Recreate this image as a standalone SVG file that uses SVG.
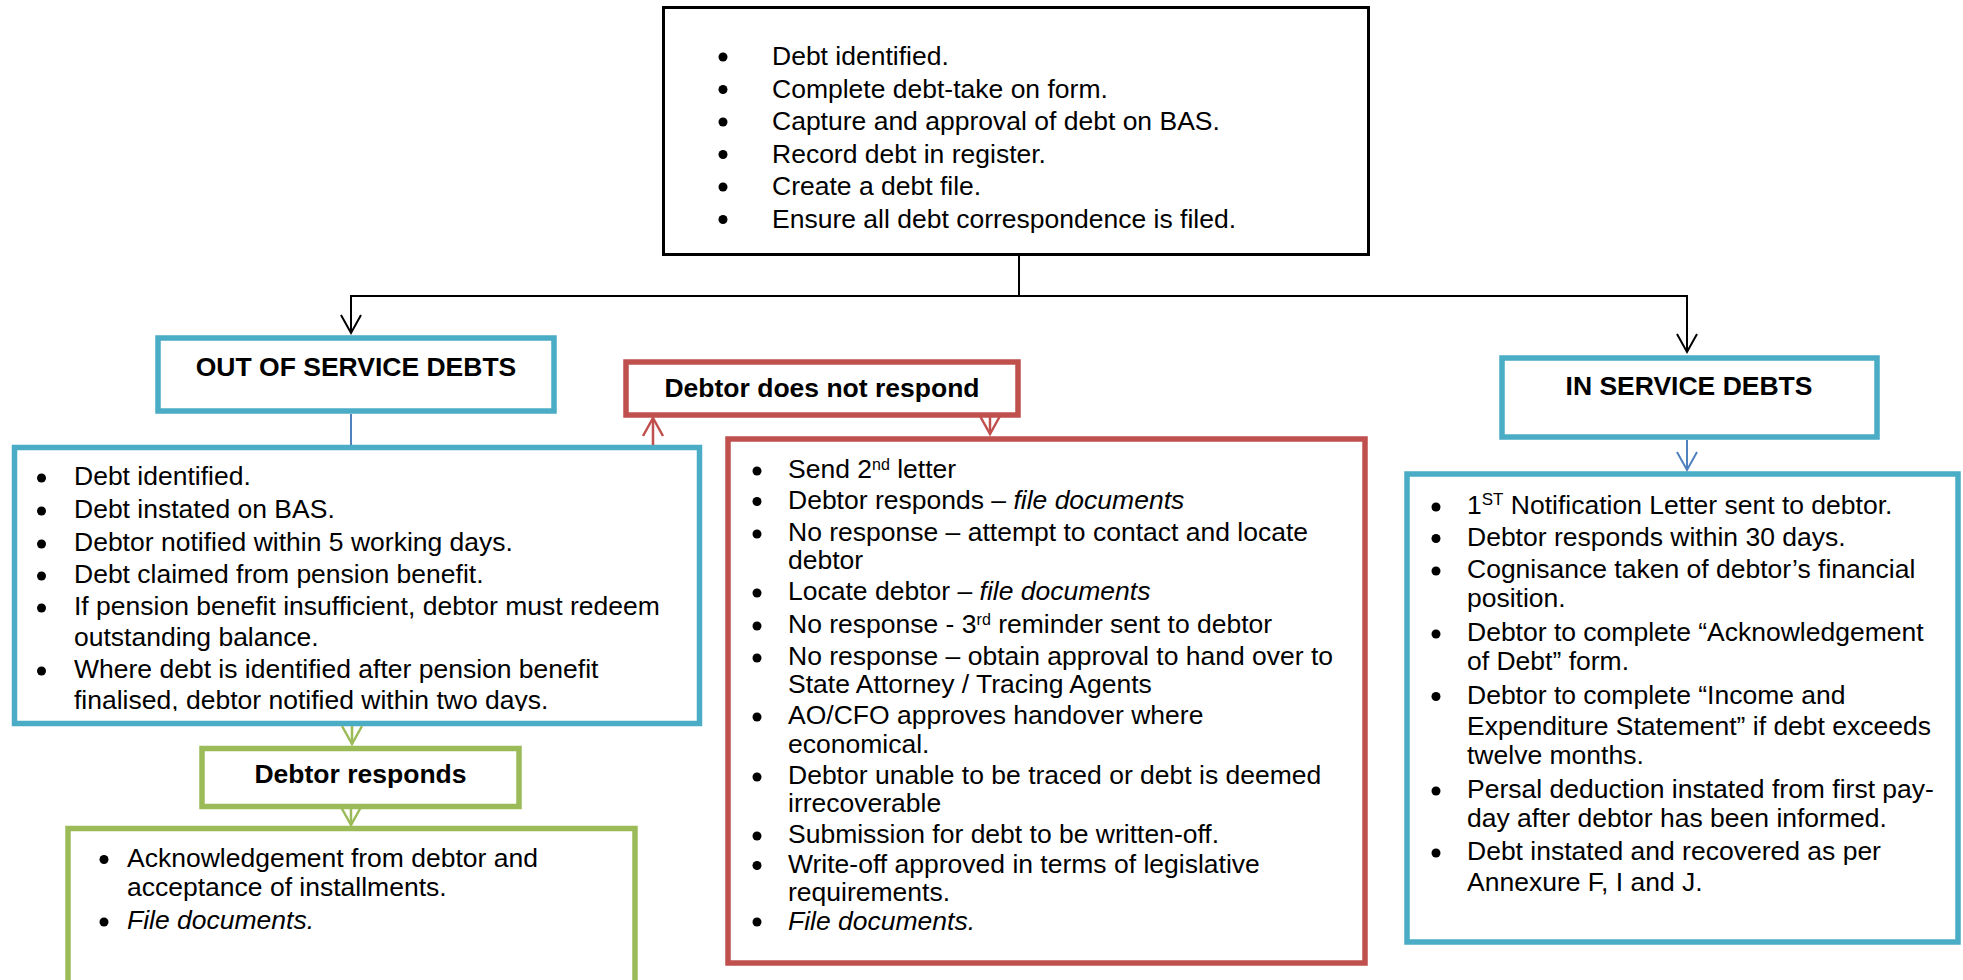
<svg xmlns="http://www.w3.org/2000/svg" width="1963" height="980" viewBox="0 0 1963 980">
<style>
.t{font-family:"Liberation Sans",Arial,sans-serif;font-size:26.5px;fill:#000}
.b{font-weight:bold}
.i{font-style:italic}
.bg{fill:#fff}
.k{fill:none;stroke:#000;stroke-width:3}
.teal{fill:none;stroke:#4BACC6;stroke-width:5.5}
.red{fill:none;stroke:#C0504D;stroke-width:5.5}
.green{fill:none;stroke:#9BBB59;stroke-width:5.5}
.dot{fill:#000}
.ck{fill:none;stroke:#000;stroke-width:2}
.cr{fill:none;stroke:#C0504D;stroke-width:2.5}
.cg{fill:none;stroke:#9BBB59;stroke-width:2.5}
.cb{fill:none;stroke:#4F81BD;stroke-width:2}
</style>
<defs>
<marker id="ak" markerUnits="userSpaceOnUse" orient="auto" markerWidth="40" markerHeight="40" refX="20" refY="20" viewBox="0 0 40 40"><path d="M2,10 L20,20 L2,30" fill="none" stroke="#000" stroke-width="2"/></marker>
<marker id="ar" markerUnits="userSpaceOnUse" orient="auto" markerWidth="40" markerHeight="40" refX="20" refY="20" viewBox="0 0 40 40"><path d="M2,10 L20,20 L2,30" fill="none" stroke="#C0504D" stroke-width="2.5"/></marker>
<marker id="ag" markerUnits="userSpaceOnUse" orient="auto" markerWidth="40" markerHeight="40" refX="20" refY="20" viewBox="0 0 40 40"><path d="M2,10 L20,20 L2,30" fill="none" stroke="#9BBB59" stroke-width="2.5"/></marker>
<marker id="ab" markerUnits="userSpaceOnUse" orient="auto" markerWidth="40" markerHeight="40" refX="20" refY="20" viewBox="0 0 40 40"><path d="M2,10 L20,20 L2,30" fill="none" stroke="#4F81BD" stroke-width="2"/></marker>
<clipPath id="clipOos"><rect x="17" y="450" width="680" height="261"/></clipPath>
</defs>
<rect width="1963" height="980" fill="#fff"/>

<g id="top-box">
<rect class="bg k" x="663.5" y="7.5" width="705" height="247"/>
<circle class="dot" cx="723" cy="57" r="4.5"/>
<circle class="dot" cx="723" cy="89.5" r="4.5"/>
<circle class="dot" cx="723" cy="122" r="4.5"/>
<circle class="dot" cx="723" cy="154.5" r="4.5"/>
<circle class="dot" cx="723" cy="187" r="4.5"/>
<circle class="dot" cx="723" cy="219.5" r="4.5"/>
<text class="t" x="772" y="65">Debt identified.</text>
<text class="t" x="772" y="97.5">Complete debt-take on form.</text>
<text class="t" x="772" y="130">Capture and approval of debt on BAS.</text>
<text class="t" x="772" y="162.5">Record debt in register.</text>
<text class="t" x="772" y="195">Create a debt file.</text>
<text class="t" x="772" y="227.5">Ensure all debt correspondence is filed.</text>
</g>

<g id="out-of-service-header">
<rect class="bg teal" x="158" y="338" width="396" height="73"/>
<text class="t b" x="356" y="376" text-anchor="middle">OUT OF SERVICE DEBTS</text>
</g>

<g id="out-of-service-detail">
<rect class="bg" x="14.5" y="447.5" width="685" height="276"/>
<g clip-path="url(#clipOos)">
<circle class="dot" cx="41.5" cy="478" r="4.5"/>
<circle class="dot" cx="41.5" cy="511" r="4.5"/>
<circle class="dot" cx="41.5" cy="544" r="4.5"/>
<circle class="dot" cx="41.5" cy="576" r="4.5"/>
<circle class="dot" cx="41.5" cy="608" r="4.5"/>
<circle class="dot" cx="41.5" cy="671" r="4.5"/>
<text class="t" x="74" y="485">Debt identified.</text>
<text class="t" x="74" y="518">Debt instated on BAS.</text>
<text class="t" x="74" y="551">Debtor notified within 5 working days.</text>
<text class="t" x="74" y="583">Debt claimed from pension benefit.</text>
<text class="t" x="74" y="615">If pension benefit insufficient, debtor must redeem</text>
<text class="t" x="74" y="646">outstanding balance.</text>
<text class="t" x="74" y="678">Where debt is identified after pension benefit</text>
<text class="t" x="74" y="709">finalised, debtor notified within two days.</text>
</g>
<rect class="teal" x="14.5" y="447.5" width="685" height="276"/>
</g>

<g id="debtor-does-not-respond">
<rect class="bg red" x="626" y="362" width="392" height="53"/>
<text class="t b" x="822" y="397" text-anchor="middle">Debtor does not respond</text>
</g>

<g id="no-response-steps">
<rect class="bg red" x="728" y="439" width="637" height="524"/>
<circle class="dot" cx="757" cy="471" r="4.5"/>
<circle class="dot" cx="757" cy="501.5" r="4.5"/>
<circle class="dot" cx="757" cy="534" r="4.5"/>
<circle class="dot" cx="757" cy="593" r="4.5"/>
<circle class="dot" cx="757" cy="626" r="4.5"/>
<circle class="dot" cx="757" cy="658" r="4.5"/>
<circle class="dot" cx="757" cy="717" r="4.5"/>
<circle class="dot" cx="757" cy="777" r="4.5"/>
<circle class="dot" cx="757" cy="836" r="4.5"/>
<circle class="dot" cx="757" cy="865.5" r="4.5"/>
<circle class="dot" cx="757" cy="922" r="4.5"/>
<text class="t" x="788" y="478">Send 2<tspan font-size="16" baseline-shift="super">nd</tspan> letter</text>
<text class="t" x="788" y="508.5">Debtor responds – <tspan class="i">file documents</tspan></text>
<text class="t" x="788" y="541">No response – attempt to contact and locate</text>
<text class="t" x="788" y="569">debtor</text>
<text class="t" x="788" y="600">Locate debtor – <tspan class="i">file documents</tspan></text>
<text class="t" x="788" y="633">No response - 3<tspan font-size="16" baseline-shift="super">rd</tspan> reminder sent to debtor</text>
<text class="t" x="788" y="665">No response – obtain approval to hand over to</text>
<text class="t" x="788" y="693">State Attorney / Tracing Agents</text>
<text class="t" x="788" y="724">AO/CFO approves handover where</text>
<text class="t" x="788" y="753">economical.</text>
<text class="t" x="788" y="784">Debtor unable to be traced or debt is deemed</text>
<text class="t" x="788" y="812">irrecoverable</text>
<text class="t" x="788" y="843">Submission for debt to be written-off.</text>
<text class="t" x="788" y="872.5">Write-off approved in terms of legislative</text>
<text class="t" x="788" y="900.5">requirements.</text>
<text class="t i" x="788" y="929.5">File documents.</text>
</g>

<g id="debtor-responds">
<rect class="bg green" x="202" y="748.5" width="317" height="58"/>
<text class="t b" x="360.5" y="783" text-anchor="middle">Debtor responds</text>
</g>

<g id="responds-steps">
<rect class="bg green" x="68" y="828.5" width="567" height="200"/>
<circle class="dot" cx="104" cy="859.5" r="4.5"/>
<circle class="dot" cx="104" cy="922" r="4.5"/>
<text class="t" x="127" y="866.5">Acknowledgement from debtor and</text>
<text class="t" x="127" y="896">acceptance of installments.</text>
<text class="t i" x="127" y="929">File documents.</text>
</g>

<g id="in-service-header">
<rect class="bg teal" x="1502" y="358" width="375" height="79"/>
<text class="t b" x="1689" y="395" text-anchor="middle">IN SERVICE DEBTS</text>
</g>

<g id="in-service-detail">
<rect class="bg teal" x="1407" y="474" width="551" height="468"/>
<circle class="dot" cx="1436" cy="507" r="4.5"/>
<circle class="dot" cx="1436" cy="538.5" r="4.5"/>
<circle class="dot" cx="1436" cy="571" r="4.5"/>
<circle class="dot" cx="1436" cy="634" r="4.5"/>
<circle class="dot" cx="1436" cy="696.5" r="4.5"/>
<circle class="dot" cx="1436" cy="791" r="4.5"/>
<circle class="dot" cx="1436" cy="853" r="4.5"/>
<text class="t" x="1467" y="514">1<tspan font-size="17" baseline-shift="super">ST</tspan> Notification Letter sent to debtor.</text>
<text class="t" x="1467" y="545.5">Debtor responds within 30 days.</text>
<text class="t" x="1467" y="578">Cognisance taken of debtor’s financial</text>
<text class="t" x="1467" y="607">position.</text>
<text class="t" x="1467" y="641">Debtor to complete “Acknowledgement</text>
<text class="t" x="1467" y="670">of Debt” form.</text>
<text class="t" x="1467" y="703.5">Debtor to complete “Income and</text>
<text class="t" x="1467" y="735">Expenditure Statement” if debt exceeds</text>
<text class="t" x="1467" y="764">twelve months.</text>
<text class="t" x="1467" y="798">Persal deduction instated from first pay-</text>
<text class="t" x="1467" y="827">day after debtor has been informed.</text>
<text class="t" x="1467" y="860">Debt instated and recovered as per</text>
<text class="t" x="1467" y="890.5">Annexure F, I and J.</text>
</g>

<g id="connectors">
<path class="ck" d="M1019,256 V296"/>
<path class="ck" d="M1019,296 H351 V333" marker-end="url(#ak)"/>
<path class="ck" d="M1019,296 H1687 V352" marker-end="url(#ak)"/>
<path class="cb" d="M351,414 V445"/>
<path class="cr" d="M653,445 V418" marker-end="url(#ar)"/>
<path class="cr" d="M990,417 V434" marker-end="url(#ar)"/>
<path class="cg" d="M352,726 V744" marker-end="url(#ag)"/>
<path class="cg" d="M351,809 V825" marker-end="url(#ag)"/>
<path class="cb" d="M1687,440 V470" marker-end="url(#ab)"/>
</g>
</svg>
